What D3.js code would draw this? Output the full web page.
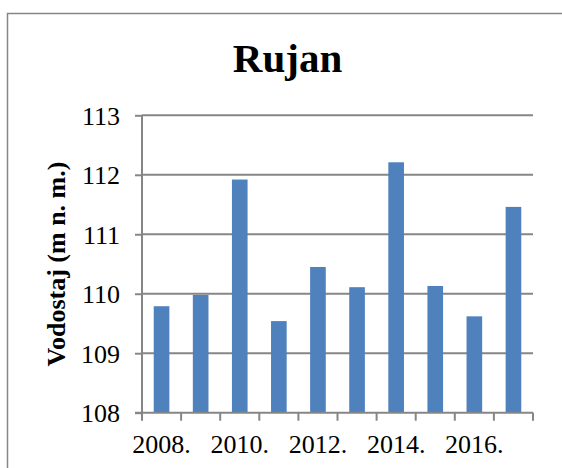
<!DOCTYPE html>
<html>
<head>
<meta charset="utf-8">
<script src="https://cdn.jsdelivr.net/npm/d3@7"></script>
<style>
  html, body { margin: 0; padding: 0; background: #fff; }
  svg { display: block; }
  svg text { font-family: "Liberation Serif", "Times New Roman", "DejaVu Serif", serif !important; fill: #000; }
</style>
</head>
<body>
<div id="chart"></div>
<script>
const title = "Rujan";
const yTitle = "Vodostaj (m n. m.)";
const years = ["2008.", "2009.", "2010.", "2011.", "2012.", "2013.", "2014.", "2015.", "2016.", "2017."];
const values = [109.79, 109.98, 111.92, 109.54, 110.45, 110.11, 112.21, 110.13, 109.62, 111.46];
const yTicks = [108, 109, 110, 111, 112, 113];
const shownLabels = ["2008.", "2010.", "2012.", "2014.", "2016."];

const W = 562, H = 468;
const plot = { left: 142, right: 533, top: 115.3, bottom: 412.7 };
const gray = "#868686";
const barColor = "#4F81BD";
const serif = "'Liberation Serif', 'Times New Roman', serif";

const svg = d3.select("#chart").append("svg")
  .attr("width", W).attr("height", H)
  .attr("font-family", serif);

// outer chart border
svg.append("rect")
  .attr("x", 7.5).attr("y", 13.5)
  .attr("width", 700).attr("height", 600)
  .attr("fill", "none").attr("stroke", gray).attr("stroke-width", 1.5);

const x = d3.scaleBand()
  .domain(years)
  .range([plot.left, plot.right])
  .paddingInner(0.6).paddingOuter(0.3);

const y = d3.scaleLinear()
  .domain([108, 113])
  .range([plot.bottom, plot.top]);

// gridlines
svg.append("g")
  .selectAll("line")
  .data(yTicks.filter(t => t > 108))
  .join("line")
  .attr("x1", plot.left).attr("x2", plot.right)
  .attr("y1", d => y(d)).attr("y2", d => y(d))
  .attr("stroke", gray).attr("stroke-width", 2);

// bars
svg.append("g")
  .selectAll("rect")
  .data(values)
  .join("rect")
  .attr("x", (d, i) => x(years[i]))
  .attr("width", x.bandwidth())
  .attr("y", d => y(d))
  .attr("height", d => y(108) - y(d))
  .attr("fill", barColor);

// y axis
const yAxis = svg.append("g")
  .attr("transform", `translate(${plot.left},0)`)
  .call(d3.axisLeft(y).tickValues(yTicks).tickSize(7).tickPadding(15).tickFormat(d3.format("d")));
yAxis.attr("font-family", serif).attr("font-size", 26);
yAxis.select(".domain").attr("stroke", gray).attr("stroke-width", 2).attr("d", `M0,${plot.top}V${plot.bottom}`);
yAxis.selectAll(".tick line").attr("stroke", gray).attr("stroke-width", 2);
yAxis.selectAll(".tick text")
  .attr("font-size", 26)
  .attr("font-family", serif)
  .attr("fill", "#000")
  .attr("dy", "0.34em");

// x axis
const boundaries = d3.range(years.length + 1).map(i => plot.left + i * x.step());
const xg = svg.append("g");
xg.append("line")
  .attr("x1", plot.left - 7).attr("x2", plot.right)
  .attr("y1", plot.bottom).attr("y2", plot.bottom)
  .attr("stroke", gray).attr("stroke-width", 2);
xg.selectAll("line.tk")
  .data(boundaries)
  .join("line")
  .attr("class", "tk")
  .attr("x1", d => d).attr("x2", d => d)
  .attr("y1", plot.bottom).attr("y2", plot.bottom + 8)
  .attr("stroke", gray).attr("stroke-width", 2);
xg.selectAll("text")
  .data(shownLabels)
  .join("text")
  .attr("x", d => x(d) + x.bandwidth() / 2)
  .attr("y", 452.7)
  .attr("text-anchor", "middle")
  .attr("font-family", serif)
  .attr("font-size", 26)
  .text(d => d);

// title
svg.append("text")
  .attr("x", 287.5).attr("y", 72)
  .attr("text-anchor", "middle")
  .attr("font-family", serif)
  .attr("font-size", 41)
  .attr("font-weight", "bold")
  .text(title);

// y title
svg.append("text")
  .attr("transform", `translate(65,${(plot.top + plot.bottom) / 2}) rotate(-90)`)
  .attr("text-anchor", "middle")
  .attr("font-family", serif)
  .attr("font-size", 26)
  .attr("font-weight", "bold")
  .text(yTitle);
</script>
</body>
</html>
